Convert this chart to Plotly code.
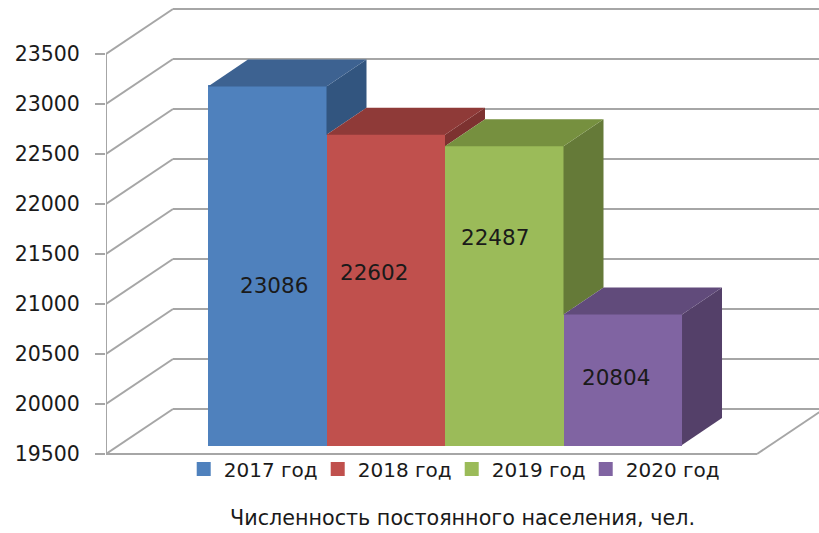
import plotly.graph_objects as go

# Data
years = ["2017 год", "2018 год", "2019 год", "2020 год"]
population = [23086, 22602, 22487, 20804]
ticks = [19500, 20000, 20500, 21000, 21500, 22000, 22500, 23000, 23500]
axis_title = "Численность постоянного населения, чел."

# Style
front = ["#4F81BD", "#C0504D", "#9BBB59", "#8064A2"]
top = ["#3D6291", "#8F3A38", "#76903F", "#614B7B"]
side = ["#32557F", "#7D3230", "#657A38", "#544069"]
label_shift = [(6.5, 19.5), (-12, -17), (-9, -58), (-7, -2)]
GRID = "#A6A6A6"
FONT = "DejaVu Sans"

# Oblique projection, in axis units (100 px per 1000 people, 118.5 px per bar)
PX_X = 1 / 118.5
PX_Y = 10
WALL_DX, WALL_DY = 67 * PX_X, 45 * PX_Y
BAR_DX, BAR_DY = 40 * PX_X, 27 * PX_Y
FRONT_LIFT = 9 * PX_Y
X0 = -1.3608
X1 = 4.656
base = ticks[0]

fig = go.Figure()

# Front faces
for i, (name, v) in enumerate(zip(years, population)):
    fig.add_trace(go.Bar(
        x=[i], y=[v - base], base=base + FRONT_LIFT, name=name,
        width=1 - 2 * PX_X,
        marker=dict(color=front[i], line=dict(color=front[i], width=2)),
        hovertext=[f"{name}: {v}"], hoverinfo="text",
    ))

# Top and side faces, left to right so that each bar covers the previous one
def poly(xs, ys, color):
    fig.add_trace(go.Scatter(
        x=xs, y=ys, mode="lines", fill="toself", fillcolor=color,
        line=dict(width=0, color=color), showlegend=False, hoverinfo="skip",
    ))

for i, v in enumerate(population):
    xl, xr = i - 0.5, i + 0.5
    yt = v + FRONT_LIFT
    below = population[i + 1] if i + 1 < len(population) else base
    yb = below + FRONT_LIFT
    poly([xr, xr + BAR_DX, xr + BAR_DX, xr, xr],
         [yt, yt + BAR_DY, yb + BAR_DY, yb, yt], side[i])
    poly([xl, xr, xr + BAR_DX, xl + BAR_DX, xl],
         [yt, yt, yt + BAR_DY, yt + BAR_DY, yt], top[i])

# Walls, floor and value axis, all behind the bars
def line(x0, y0, x1, y1):
    return dict(type="line", xref="x", yref="y", x0=x0, y0=y0, x1=x1, y1=y1,
                layer="below", line=dict(color=GRID, width=2))

shapes = []
for t in ticks:
    shapes.append(line(X0, t, X0 + WALL_DX, t + WALL_DY))
    shapes.append(line(X0 + WALL_DX, t + WALL_DY, X1, t + WALL_DY))
shapes.append(line(X0, ticks[0], X0, ticks[-1]))
floor_end = X0 + 651 * PX_X
shapes.append(line(X0, base, floor_end, base))
shapes.append(line(floor_end, base, floor_end + WALL_DX, base + WALL_DY))

annotations = [
    dict(x=i, y=(v + base) / 2 + FRONT_LIFT, xref="x", yref="y", text=str(v),
         showarrow=False, xshift=label_shift[i][0], yshift=-label_shift[i][1],
         font=dict(family=FONT, size=21.5, color="#1A1A1A"))
    for i, v in enumerate(population)
]

fig.update_layout(
    width=819, height=533, autosize=False,
    margin=dict(l=106, r=0, t=0, b=75),
    paper_bgcolor="white", plot_bgcolor="white",
    shapes=shapes, annotations=annotations,
    bargap=0, barmode="overlay",
    xaxis=dict(range=[X0, X1], showgrid=False, zeroline=False, showline=False,
               showticklabels=False, ticks="", fixedrange=True,
               title=dict(text=axis_title, standoff=52,
                          font=dict(family=FONT, size=20.7, color="#1A1A1A"))),
    yaxis=dict(range=[base - 4 * PX_Y, base + 454 * PX_Y], tickmode="array",
               tickvals=ticks, ticktext=[str(t) for t in ticks],
               showgrid=False, zeroline=False, showline=False,
               ticks="outside", ticklen=10, tickwidth=2, tickcolor=GRID,
               ticklabelstandoff=11, fixedrange=True,
               tickfont=dict(family=FONT, size=20.5, color="#1A1A1A")),
    legend=dict(orientation="h", x=0.109, xanchor="left", y=-0.024, yanchor="middle",
                entrywidth=89, entrywidthmode="pixels", traceorder="normal",
                bgcolor="rgba(0,0,0,0)",
                font=dict(family=FONT, size=20, color="#1A1A1A")),
    showlegend=True,
)

fig.write_html("out.html", config=dict(displayModeBar=False),
               post_script="document.body.style.margin='0';")
